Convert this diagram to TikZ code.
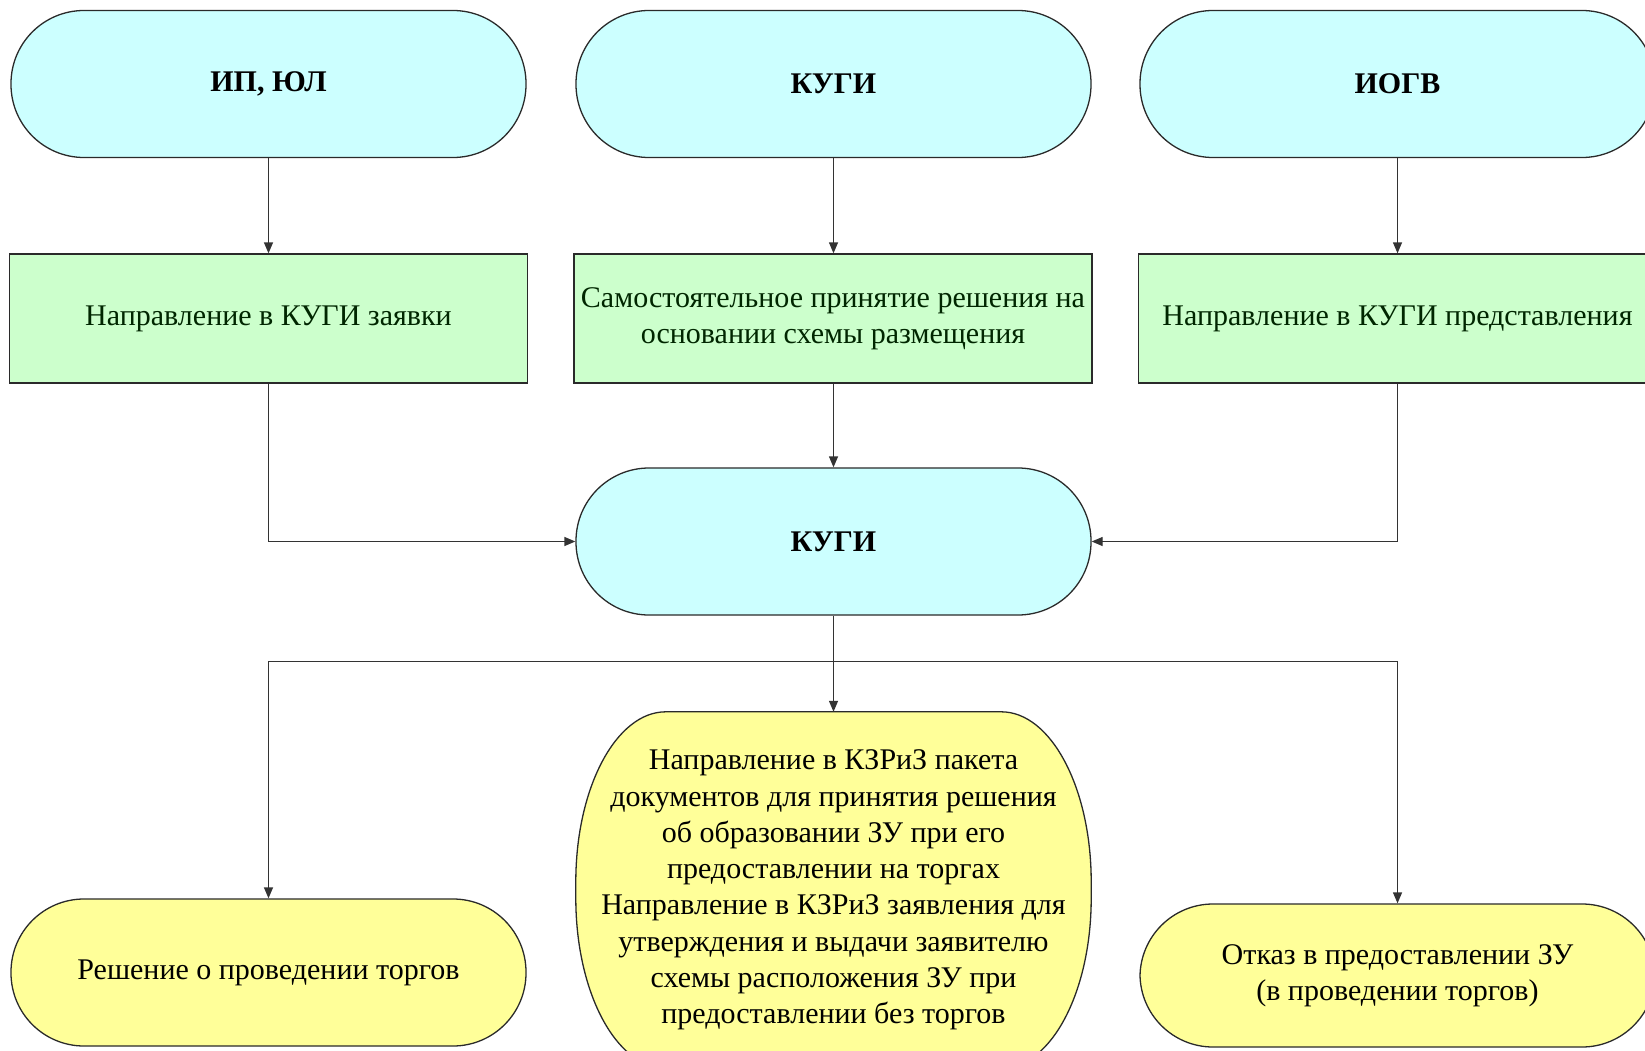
\documentclass[tikz,border=0pt]{standalone}
\usepackage{fontspec}
\setmainfont{Liberation Serif}
\usetikzlibrary{arrows.meta,backgrounds,calc}
\definecolor{cyanfill}{HTML}{CCFFFF}
\definecolor{greenfill}{HTML}{CCFFCC}
\definecolor{yelfill}{HTML}{FFFF99}
\definecolor{edge}{HTML}{2A2A2A}
\begin{document}
\begin{tikzpicture}[x=1pt,y=1pt,
  font=\fontsize{30pt}{36.3pt}\selectfont,
  stadium/.style={draw=edge, line width=1.3pt, rounded corners=73pt, minimum width=515pt, minimum height=147pt, align=center, inner sep=0pt},
  titlebox/.style={stadium, fill=cyanfill, font=\fontsize{30pt}{36.3pt}\selectfont\bfseries},
  greenbox/.style={draw=edge, line width=1.3pt, fill=greenfill, minimum width=518pt, minimum height=129pt, align=center, inner sep=0pt, text=black!85!green},
  yelbox/.style={stadium, fill=yelfill},
  conn/.style={draw=black!80, line width=1.3pt},
  arr/.style={conn, -{Triangle[length=11pt,width=9pt]}}]
\useasboundingbox (0,0) rectangle (1645,-1051);
\clip (0,0) rectangle (1645,-1051);
% top row
\node[titlebox] (ip) at (268.5,-84) {ИП, ЮЛ};
\node[titlebox] (kugi1) at (833.5,-84) {КУГИ};
\node[titlebox] (iogv) at (1397.5,-84) {ИОГВ};
% green row
\node[greenbox] (g1) at (268.5,-318.5) {Направление в КУГИ заявки};
\node[greenbox] (g2) at (833,-318.5) {Самостоятельное принятие решения на\\основании схемы размещения};
\node[greenbox] (g3) at (1397.5,-318.5) {Направление в КУГИ представления};
% middle
\node[titlebox] (kugi2) at (833.5,-541.5) {КУГИ};
% bottom
\node[yelbox] (resh) at (268.5,-972.5) {Решение о проведении торгов};
\node[yelbox, minimum height=143pt] (otkaz) at (1397.5,-975.5) {Отказ в предоставлении ЗУ\\(в проведении торгов)};
\node[align=center, minimum width=515pt, minimum height=356pt, inner sep=0pt] (oval) at (833.5,-890)
  {Направление в КЗРиЗ пакета\\документов для принятия решения\\об образовании ЗУ при его\\предоставлении на торгах\\Направление в КЗРиЗ заявления для\\утверждения и выдачи заявителю\\схемы расположения ЗУ при\\предоставлении без торгов};
\begin{scope}[on background layer]
\draw[draw=edge, line width=1.3pt, fill=yelfill]
  ([xshift=90pt]oval.north west) -- ([xshift=-90pt]oval.north east)
  arc[start angle=90, end angle=0, x radius=90pt, y radius=170pt]
  -- ([yshift=170pt]oval.south east)
  arc[start angle=0, end angle=-90, x radius=90pt, y radius=170pt]
  -- ([xshift=90pt]oval.south west)
  arc[start angle=270, end angle=180, x radius=90pt, y radius=170pt]
  -- ([yshift=-170pt]oval.north west)
  arc[start angle=180, end angle=90, x radius=90pt, y radius=170pt]
  -- cycle;
\end{scope}
% connectors
\draw[arr] (ip.south) -- (g1.north);
\draw[arr] (kugi1.south) -- (g2.north -| kugi1.south);
\draw[arr] (iogv.south) -- (g3.north);
\draw[arr] (g2.south -| kugi2.north) -- (kugi2.north);
\draw[arr] (g1.south) |- (kugi2.west);
\draw[arr] (g3.south) |- (kugi2.east);
\coordinate (j) at ($(kugi2.south)+(0,-46)$);
\draw[arr] (kugi2.south) -- (oval.north);
\draw[arr] (j) -| (resh.north);
\draw[arr] (j) -| (otkaz.north);
\end{tikzpicture}
\end{document}
